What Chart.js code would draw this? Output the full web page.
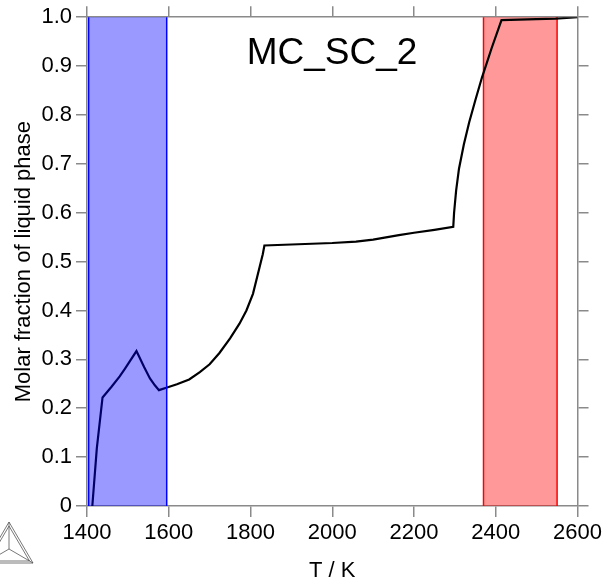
<!DOCTYPE html>
<html>
<head>
<meta charset="utf-8">
<script src="https://cdn.jsdelivr.net/npm/chart.js@4/dist/chart.umd.min.js"></script>
<style>
  html, body { margin: 0; padding: 0; background: #fff; }
  #wrap { width: 605px; height: 582px; }
</style>
</head>
<body>
<div id="wrap"><canvas id="liquidChart"></canvas></div>
<script>
// temperature (K) and molar fraction of liquid
const temps = [1413, 1424, 1438, 1460, 1480, 1493, 1521, 1540, 1554, 1566, 1576, 1594,
  1620, 1650, 1676, 1700, 1724, 1750, 1773, 1790, 1806, 1822, 1830, 1834,
  1900, 2000, 2058, 2100, 2163, 2200, 2250, 2296,
  2298, 2303, 2310, 2322, 2335, 2350, 2366, 2390, 2414, 2500, 2546, 2600];
const liquidFraction = [0, 0.118, 0.222, 0.244, 0.265, 0.281, 0.317, 0.284, 0.261, 0.247, 0.237, 0.242,
  0.249, 0.259, 0.274, 0.290, 0.313, 0.343, 0.373, 0.400, 0.434, 0.488, 0.515, 0.533,
  0.535, 0.538, 0.541, 0.545, 0.554, 0.559, 0.565, 0.571,
  0.600, 0.645, 0.690, 0.740, 0.785, 0.830, 0.876, 0.937, 0.994, 0.996, 0.997, 1.0];

const xTicks = [1400, 1600, 1800, 2000, 2200, 2400, 2600];
const xTickLabels = ['1400', '1600', '1800', '2000', '2200', '2400', '2600'];
const yTicks = [0, 0.1, 0.2, 0.3, 0.4, 0.5, 0.6, 0.7, 0.8, 0.9, 1.0];
const yTickLabels = ['0', '0.1', '0.2', '0.3', '0.4', '0.5', '0.6', '0.7', '0.8', '0.9', '1.0'];

// shaded temperature ranges
const blueBand = [1404, 1595];
const redBand = [2370, 2550];

const FONT = "'Liberation Sans', Arial, sans-serif";
const AXIS_GREY = '#8a8a8a';

function shade(chart, range, fill, edge) {
  const { ctx, chartArea: a, scales: { x } } = chart;
  const x1 = x.getPixelForValue(range[0]);
  const x2 = x.getPixelForValue(range[1]);
  ctx.save();
  ctx.fillStyle = fill;
  ctx.fillRect(x1, a.top, x2 - x1, a.bottom - a.top);
  ctx.strokeStyle = edge;
  ctx.lineWidth = 1.5;
  ctx.beginPath();
  ctx.moveTo(x1, a.top); ctx.lineTo(x1, a.bottom);
  ctx.moveTo(x2, a.top); ctx.lineTo(x2, a.bottom);
  ctx.stroke();
  ctx.restore();
}

const bandsPlugin = {
  id: 'bands',
  beforeDatasetsDraw(chart) {
    shade(chart, redBand, 'rgba(255, 0, 0, 0.4)', '#ff0000');
  },
  afterDatasetsDraw(chart) {
    shade(chart, blueBand, 'rgba(0, 0, 255, 0.4)', '#0000ff');
  }
};

const labelPlugin = {
  id: 'plotLabel',
  afterDraw(chart) {
    const { ctx, chartArea: a } = chart;
    ctx.save();
    ctx.font = '37px ' + FONT;
    ctx.fillStyle = '#000';
    ctx.textAlign = 'center';
    ctx.textBaseline = 'alphabetic';
    ctx.fillText('MC_SC_2', a.left + 245, a.top + 47);

    // small logo, bottom left
    ctx.strokeStyle = '#555';
    ctx.lineWidth = 0.8;
    const tri = [[9, 522], [33, 563], [-15, 563]];
    const c = [9, 549];
    for (const k of [0, 2.5]) {
      ctx.beginPath();
      ctx.moveTo(tri[0][0], tri[0][1] + k * 1.6);
      ctx.lineTo(tri[1][0] - k * 1.4, tri[1][1] - k * 0.8);
      ctx.lineTo(tri[2][0] + k * 1.4, tri[2][1] - k * 0.8);
      ctx.closePath();
      ctx.stroke();
    }
    ctx.beginPath();
    tri.forEach(p => { ctx.moveTo(c[0], c[1]); ctx.lineTo(p[0], p[1]); });
    ctx.stroke();
    ctx.restore();
  }
};

const hiddenSide = {
  grid: { drawOnChartArea: false, color: AXIS_GREY, tickLength: 11, lineWidth: 1.5 },
  border: { color: AXIS_GREY, width: 1.5 },
  ticks: { display: false }
};

const ctx = document.getElementById('liquidChart').getContext('2d');

const chart = new Chart(ctx, {
  type: 'line',
  data: {
    datasets: [{
      label: 'Liquid',
      data: temps.map((t, i) => ({ x: t, y: liquidFraction[i] })),
      borderColor: '#000',
      borderWidth: 2.2,
      pointRadius: 0,
      tension: 0,
      fill: false
    }]
  },
  options: {
    responsive: true,
    maintainAspectRatio: false,
    animation: false,
    layout: { padding: 0 },
    plugins: { legend: { display: false }, tooltip: { enabled: false } },
    scales: {
      x: {
        type: 'linear',
        position: 'bottom',
        min: 1400, max: 2600,
        afterBuildTicks: s => { s.ticks = xTicks.map(v => ({ value: v })); },
        afterFit: s => { s.height = 76; },
        grid: { drawOnChartArea: false, color: AXIS_GREY, tickLength: 11, lineWidth: 1.5 },
        border: { color: AXIS_GREY, width: 1.5 },
        ticks: {
          color: '#000', font: { family: FONT, size: 22 }, padding: 3, maxRotation: 0,
          callback: (v, i) => xTickLabels[i]
        },
        title: { display: true, text: 'T / K', color: '#000', font: { family: FONT, size: 22 }, padding: { top: 0, bottom: -2 } }
      },
      x2: {
        type: 'linear',
        position: 'top',
        min: 1400, max: 2600,
        afterBuildTicks: s => { s.ticks = xTicks.map(v => ({ value: v })); },
        afterFit: s => { s.height = 16; },
        ...hiddenSide
      },
      y: {
        type: 'linear',
        position: 'left',
        min: 0, max: 1,
        afterBuildTicks: s => { s.ticks = yTicks.map(v => ({ value: v })); },
        afterFit: s => { s.width = 87; },
        grid: { drawOnChartArea: false, color: AXIS_GREY, tickLength: 11, lineWidth: 1.5 },
        border: { color: AXIS_GREY, width: 1.5 },
        ticks: {
          color: '#000', font: { family: FONT, size: 22 }, padding: 4,
          callback: (v, i) => yTickLabels[i]
        },
        title: { display: true, text: 'Molar fraction of liquid phase', color: '#000', font: { family: FONT, size: 22 }, padding: { top: 11, bottom: 0 } }
      },
      y2: {
        type: 'linear',
        position: 'right',
        min: 0, max: 1,
        afterBuildTicks: s => { s.ticks = yTicks.map(v => ({ value: v })); },
        afterFit: s => { s.width = 26; },
        ...hiddenSide
      }
    }
  },
  plugins: [bandsPlugin, labelPlugin]
});
</script>
</body>
</html>
